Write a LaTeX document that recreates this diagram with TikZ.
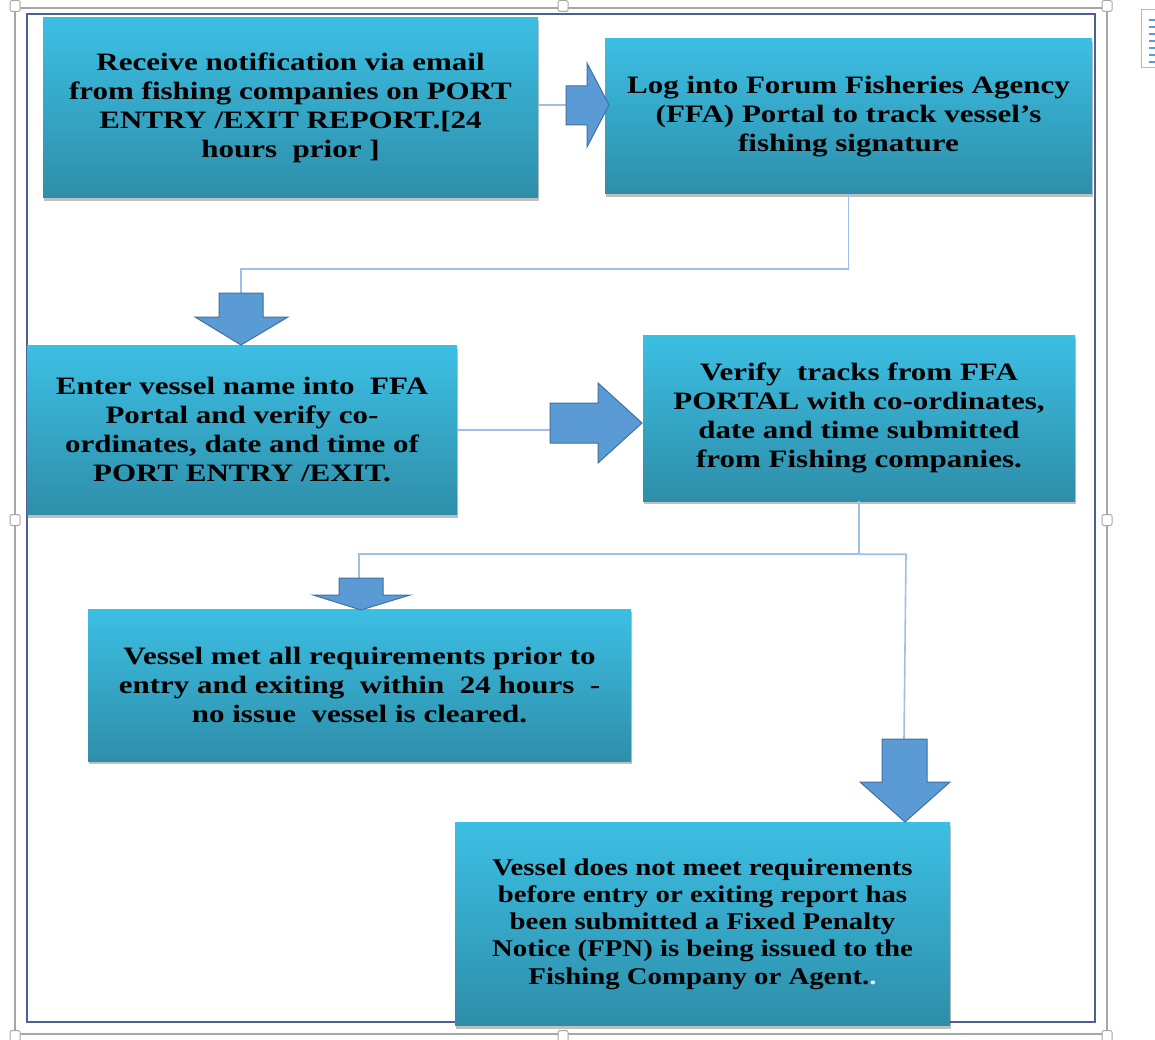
\documentclass[tikz,border=0pt]{standalone}
\usepackage{fontspec}
\setmainfont{Liberation Serif}
\newfontfamily\boxfont[FakeStretch=1.24]{Liberation Serif}
\newfontfamily\boxfontnarrow[FakeStretch=1.2]{Liberation Serif}
\usetikzlibrary{shadows}
\definecolor{boxtop}{HTML}{3CBFE4}
\definecolor{boxbot}{HTML}{2E8EA9}
\definecolor{arrfill}{HTML}{5B9BD5}
\definecolor{arrline}{HTML}{41719C}
\definecolor{linkcol}{HTML}{9DBFE8}
\definecolor{framecol}{HTML}{4F5F96}
\definecolor{selcol}{HTML}{A6A6A6}
\tikzset{
  stepbox/.style={rectangle, top color=boxtop, bottom color=boxbot, draw=none,
    align=center, inner sep=0pt,
    font=\boxfont\bfseries\fontsize{25}{29}\selectfont,
    drop shadow={shadow xshift=1pt, shadow yshift=-3pt, opacity=0.25, fill=black}},
  blockarrow/.style={fill=arrfill, draw=arrline, line width=1pt, line join=miter},
  link/.style={draw=linkcol, line width=1.6pt},
  handle/.style={draw=selcol, fill=white, line width=1pt, rounded corners=1.5pt,
    minimum width=10pt, minimum height=11pt, inner sep=0pt}
}
\begin{document}
\begin{tikzpicture}[x=1pt, y=-1pt]
\useasboundingbox (0,0) rectangle (1155,1040);
\fill[white] (0,0) rectangle (1155,1040);

% selection frame with sizing handles
\draw[selcol, line width=1.6pt] (15,8) rectangle (1107,1034);
\foreach \hx/\hy [count=\i] in {15/6, 563/6, 1107/6, 15/520, 1107/520, 15/1036, 563/1036, 1107/1036}
  \node[handle] (h\i) at (\hx,\hy) {};

% layout options button
\draw[selcol!80, fill=white, line width=1pt] (1141,10) rectangle (1160,68);
\foreach \ly in {20,27,...,62}
  \draw[arrfill, line width=2pt] (1149,\ly) -- (1158,\ly);

% inner frame
\draw[framecol, line width=1.6pt] (27,14) rectangle (1095,1022);

% process steps
\node[stepbox, minimum width=495pt, minimum height=180pt] (b1) at (290.5,108)
  {Receive notification via email\\from fishing companies on PORT\\ENTRY /EXIT REPORT.[24\\hours\ \ prior ]};
\node[stepbox, minimum width=487pt, minimum height=155pt] (b2) at (848.5,116.5)
  {Log into Forum Fisheries Agency\\(FFA) Portal to track vessel’s\\fishing signature};
\node[stepbox, minimum width=430pt, minimum height=169pt] (b3) at (242,430)
  {Enter vessel name into\ \ FFA\\Portal and verify co-\\ordinates, date and time of\\PORT ENTRY /EXIT.};
\node[stepbox, minimum width=432pt, minimum height=166pt] (b4) at (859,418)
  {Verify\ \ tracks from FFA\\PORTAL with co-ordinates,\\date and time submitted\\from Fishing companies.};
\node[stepbox, minimum width=543pt, minimum height=152pt] (b5) at (359.5,685)
  {Vessel met all requirements prior to\\entry and exiting\ \ within\ \ 24 hours\ \ -\\no issue\ \ vessel is cleared.};
\node[stepbox, minimum width=495pt, minimum height=203pt,
      font=\boxfontnarrow\bfseries\fontsize{24}{27.2}\selectfont] (b6) at (702.5,924)
  {Vessel does not meet requirements\\before entry or exiting report has\\been submitted a Fixed Penalty\\Notice (FPN) is being issued to the\\Fishing Company or Agent.\textcolor{white!80!boxtop}{.}};

% arrow tails
\coordinate (a1t) at (566,105);
\coordinate (a2t) at (241,293);
\coordinate (a3t) at (550,423);
\coordinate (a4t) at (359,578);
\coordinate (a5t) at (904,739);

% connectors
\draw[link] (a1t -| b1.east) -- (a1t);
\draw[link] (b2.south) -- ++(0,75) -| (a2t);
\draw[link] (b3.east) -- (b3.east -| a3t);
\draw[link] (b4.south) -- ++(0,53) coordinate (split) -| (a4t);
\draw[link] (split) -- ++(47,0) -- (a5t);

% block arrows
\draw[blockarrow] (566,86) -- (587,86) -- (587,63) -- (609,105) -- (587,147) -- (587,125) -- (566,125) -- cycle;
\draw[blockarrow] (219,293) -- (263,293) -- (263,317) -- (288,317) -- (241,345) -- (195,317) -- (219,317) -- cycle;
\draw[blockarrow] (550,403) -- (598,403) -- (598,383) -- (642,423) -- (598,463) -- (598,443) -- (550,443) -- cycle;
\draw[blockarrow] (339,578) -- (383,578) -- (383,595) -- (410,595) -- (361,610) -- (313,595) -- (339,595) -- cycle;
\draw[blockarrow] (882,739) -- (927,739) -- (927,782) -- (950,782) -- (905,822) -- (860,782) -- (882,782) -- cycle;
\end{tikzpicture}
\end{document}
